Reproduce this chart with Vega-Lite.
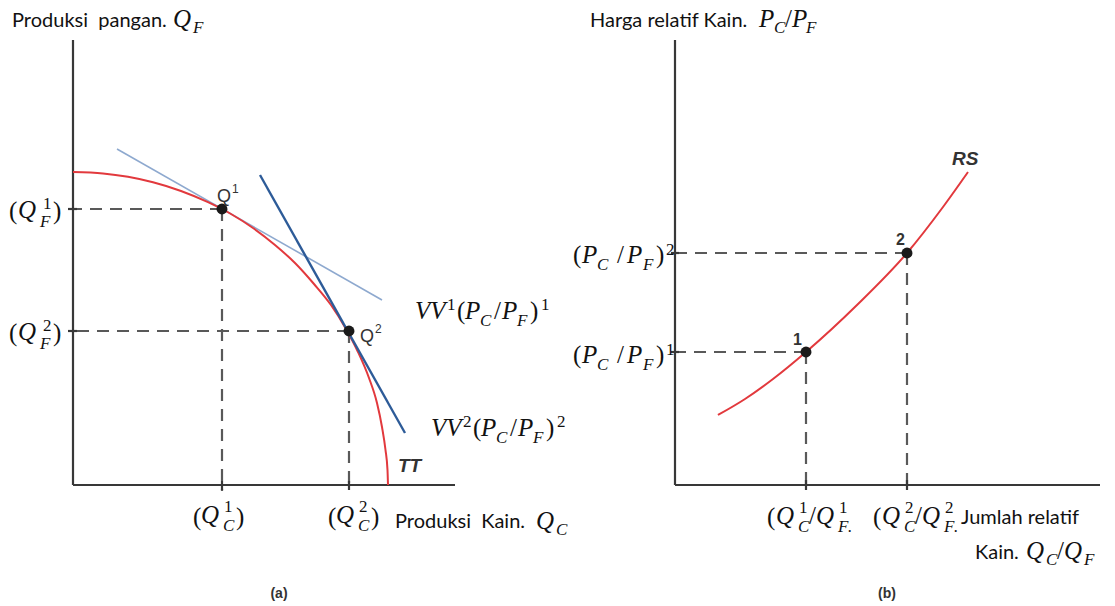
{
  "$schema": "https://vega.github.io/schema/vega-lite/v6.json",
  "background": "white",
  "padding": 0,
  "spacing": 0,
  "bounds": "flush",
  "config": {"view": {"stroke": null}},
  "datasets": {
    "a_solid": [
      {"x": 0, "y": 0, "x2": 0, "y2": 445},
      {"x": 0, "y": 0, "x2": 382, "y2": 0},
      {"x": -5, "y": 276, "x2": 4, "y2": 276},
      {"x": -5, "y": 154, "x2": 4, "y2": 154},
      {"x": 149, "y": -5, "x2": 149, "y2": 4},
      {"x": 276, "y": -5, "x2": 276, "y2": 4}
    ],
    "a_dash": [
      {"x": 149, "y": 276, "x2": 0, "y2": 276},
      {"x": 149, "y": 276, "x2": 149, "y2": -6},
      {"x": 276, "y": 154, "x2": 0, "y2": 154},
      {"x": 276, "y": 154, "x2": 276, "y2": -6}
    ],
    "a_vv1": [{"x": 44, "y": 336, "x2": 309, "y2": 185}],
    "a_vv2": [{"x": 187, "y": 310, "x2": 332, "y2": 52}],
    "a_tt": [
      {"x": 0, "y": 313}, {"x": 30, "y": 311.6}, {"x": 55, "y": 308.2}, {"x": 80, "y": 302.7},
      {"x": 108, "y": 294}, {"x": 135, "y": 282.8}, {"x": 158, "y": 271}, {"x": 180, "y": 257},
      {"x": 202, "y": 240}, {"x": 222, "y": 222}, {"x": 241, "y": 201}, {"x": 258, "y": 180},
      {"x": 273, "y": 156}, {"x": 285, "y": 133}, {"x": 296, "y": 107}, {"x": 304, "y": 82},
      {"x": 309, "y": 58}, {"x": 312.5, "y": 35}, {"x": 314.5, "y": 15}, {"x": 315, "y": 0}
    ],
    "a_pts": [{"x": 149, "y": 276}, {"x": 276, "y": 154}],
    "a_text": [
      {"k": "sans", "t": "Produksi\u00a0\u00a0pangan.", "x": -61, "y": 458},
      {"k": "mi", "t": "Q", "x": 100, "y": 458},
      {"k": "ms", "t": "F", "x": 120, "y": 452},

      {"k": "mr", "t": "(", "x": -64, "y": 266},
      {"k": "mi", "t": "Q", "x": -55, "y": 267},
      {"k": "mrs", "t": "1", "x": -30, "y": 276},
      {"k": "ms", "t": "F", "x": -33, "y": 258},
      {"k": "mr", "t": ")", "x": -20, "y": 266},

      {"k": "mr", "t": "(", "x": -64, "y": 144},
      {"k": "mi", "t": "Q", "x": -55, "y": 145},
      {"k": "mrs", "t": "2", "x": -30, "y": 154},
      {"k": "ms", "t": "F", "x": -33, "y": 136},
      {"k": "mr", "t": ")", "x": -20, "y": 144},

      {"k": "mr", "t": "(", "x": 120, "y": -40},
      {"k": "mi", "t": "Q", "x": 128, "y": -38},
      {"k": "mrs", "t": "1", "x": 151, "y": -27},
      {"k": "ms", "t": "C", "x": 150, "y": -46},
      {"k": "mr", "t": ")", "x": 163, "y": -40},

      {"k": "mr", "t": "(", "x": 255, "y": -40},
      {"k": "mi", "t": "Q", "x": 263, "y": -38},
      {"k": "mrs", "t": "2", "x": 286, "y": -27},
      {"k": "ms", "t": "C", "x": 285, "y": -46},
      {"k": "mr", "t": ")", "x": 298, "y": -40},

      {"k": "sans", "t": "Produksi\u00a0\u00a0Kain.", "x": 322, "y": -43},
      {"k": "mi", "t": "Q", "x": 463, "y": -44},
      {"k": "ms", "t": "C", "x": 483, "y": -50},

      {"k": "mi", "t": "VV", "x": 342, "y": 166},
      {"k": "mrs", "t": "1", "x": 374, "y": 175},
      {"k": "mr", "t": "(", "x": 384, "y": 166},
      {"k": "mi", "t": "P", "x": 392, "y": 166},
      {"k": "ms", "t": "C", "x": 407, "y": 159},
      {"k": "mr", "t": "/", "x": 421, "y": 166},
      {"k": "mi", "t": "P", "x": 429, "y": 166},
      {"k": "ms", "t": "F", "x": 444, "y": 159},
      {"k": "mr", "t": ")", "x": 457, "y": 166},
      {"k": "mrs", "t": "1", "x": 468, "y": 175},

      {"k": "mi", "t": "VV", "x": 358, "y": 49},
      {"k": "mrs", "t": "2", "x": 390, "y": 58},
      {"k": "mr", "t": "(", "x": 400, "y": 49},
      {"k": "mi", "t": "P", "x": 408, "y": 49},
      {"k": "ms", "t": "C", "x": 423, "y": 42},
      {"k": "mr", "t": "/", "x": 437, "y": 49},
      {"k": "mi", "t": "P", "x": 445, "y": 49},
      {"k": "ms", "t": "F", "x": 460, "y": 42},
      {"k": "mr", "t": ")", "x": 473, "y": 49},
      {"k": "mrs", "t": "2", "x": 484, "y": 58},

      {"k": "fig", "t": "Q", "x": 144, "y": 283},
      {"k": "figs", "t": "1", "x": 159, "y": 292},
      {"k": "fig", "t": "Q", "x": 287, "y": 143},
      {"k": "figs", "t": "2", "x": 302, "y": 152},
      {"k": "figi", "t": "TT", "x": 325, "y": 13},
      {"k": "cap", "t": "(a)", "x": 206, "y": -113}
    ],
    "b_solid": [
      {"x": 0, "y": 0, "x2": 0, "y2": 445},
      {"x": 0, "y": 0, "x2": 425, "y2": 0},
      {"x": -4, "y": 232, "x2": 4, "y2": 232},
      {"x": -4, "y": 133, "x2": 4, "y2": 133},
      {"x": 131, "y": -5, "x2": 131, "y2": 5},
      {"x": 232, "y": -5, "x2": 232, "y2": 5}
    ],
    "b_dash": [
      {"x": 232, "y": 232, "x2": 0, "y2": 232},
      {"x": 232, "y": 232, "x2": 232, "y2": 0},
      {"x": 131, "y": 133, "x2": 0, "y2": 133},
      {"x": 131, "y": 133, "x2": 131, "y2": 0}
    ],
    "b_rs": [
      {"x": 43, "y": 70}, {"x": 70, "y": 86}, {"x": 98, "y": 106}, {"x": 131, "y": 133},
      {"x": 182, "y": 180}, {"x": 232, "y": 232}, {"x": 268, "y": 278}, {"x": 293, "y": 313}
    ],
    "b_pts": [{"x": 131, "y": 133}, {"x": 232, "y": 232}],
    "b_text": [
      {"k": "sans", "t": "Harga relatif Kain.", "x": -85, "y": 458},
      {"k": "mi", "t": "P", "x": 84, "y": 458},
      {"k": "ms", "t": "C", "x": 99, "y": 452},
      {"k": "mr", "t": "/", "x": 110, "y": 458},
      {"k": "mi", "t": "P", "x": 117, "y": 458},
      {"k": "ms", "t": "F", "x": 131, "y": 452},

      {"k": "mr", "t": "(", "x": -102, "y": 222},
      {"k": "mi", "t": "P", "x": -93, "y": 222},
      {"k": "ms", "t": "C", "x": -78, "y": 215},
      {"k": "mr", "t": "/", "x": -58, "y": 222},
      {"k": "mi", "t": "P", "x": -48, "y": 222},
      {"k": "ms", "t": "F", "x": -32, "y": 215},
      {"k": "mr", "t": ")", "x": -19, "y": 222},
      {"k": "mrs", "t": "2", "x": -9, "y": 230},

      {"k": "mr", "t": "(", "x": -102, "y": 122},
      {"k": "mi", "t": "P", "x": -93, "y": 122},
      {"k": "ms", "t": "C", "x": -78, "y": 115},
      {"k": "mr", "t": "/", "x": -58, "y": 122},
      {"k": "mi", "t": "P", "x": -48, "y": 122},
      {"k": "ms", "t": "F", "x": -32, "y": 115},
      {"k": "mr", "t": ")", "x": -19, "y": 122},
      {"k": "mrs", "t": "1", "x": -9, "y": 130},

      {"k": "mr", "t": "(", "x": 92, "y": -40},
      {"k": "mi", "t": "Q", "x": 101, "y": -39},
      {"k": "mrs", "t": "1", "x": 124, "y": -28},
      {"k": "ms", "t": "C", "x": 123, "y": -47},
      {"k": "mr", "t": "/", "x": 134, "y": -39},
      {"k": "mi", "t": "Q", "x": 141, "y": -39},
      {"k": "mrs", "t": "1", "x": 164, "y": -28},
      {"k": "ms", "t": "F", "x": 163, "y": -47},
      {"k": "ms", "t": ".", "x": 173, "y": -47},

      {"k": "mr", "t": "(", "x": 198, "y": -40},
      {"k": "mi", "t": "Q", "x": 207, "y": -39},
      {"k": "mrs", "t": "2", "x": 230, "y": -28},
      {"k": "ms", "t": "C", "x": 229, "y": -47},
      {"k": "mr", "t": "/", "x": 240, "y": -39},
      {"k": "mi", "t": "Q", "x": 247, "y": -39},
      {"k": "mrs", "t": "2", "x": 270, "y": -28},
      {"k": "ms", "t": "F", "x": 269, "y": -47},
      {"k": "ms", "t": ".", "x": 279, "y": -47},

      {"k": "sans", "t": "Jumlah relatif", "x": 286, "y": -39},
      {"k": "sans", "t": "Kain.", "x": 300, "y": -74},
      {"k": "mi", "t": "Q", "x": 351, "y": -74},
      {"k": "ms", "t": "C", "x": 371, "y": -80},
      {"k": "mr", "t": "/", "x": 382, "y": -74},
      {"k": "mi", "t": "Q", "x": 389, "y": -74},
      {"k": "ms", "t": "F", "x": 409, "y": -80},

      {"k": "fign", "t": "1", "x": 118, "y": 140},
      {"k": "fign", "t": "2", "x": 221, "y": 240},
      {"k": "figi", "t": "RS", "x": 277, "y": 320},
      {"k": "cap", "t": "(b)", "x": 212, "y": -113}
    ]
  },
  "hconcat": [
    {
      "width": 557,
      "height": 606,
      "encoding": {
        "x": {"field": "x", "type": "quantitative", "scale": {"domain": [-73, 484], "nice": false, "zero": false}, "axis": null},
        "y": {"field": "y", "type": "quantitative", "scale": {"domain": [-121, 485], "nice": false, "zero": false}, "axis": null}
      },
      "layer": [
        {"data": {"name": "a_dash"}, "mark": {"type": "rule", "color": "#595959", "strokeWidth": 2.2, "strokeDash": [12, 8]}, "encoding": {"x2": {"field": "x2"}, "y2": {"field": "y2"}}},
        {"data": {"name": "a_solid"}, "mark": {"type": "rule", "color": "#383838", "strokeWidth": 2.2}, "encoding": {"x2": {"field": "x2"}, "y2": {"field": "y2"}}},
        {"data": {"name": "a_vv1"}, "mark": {"type": "rule", "color": "#8ea9cf", "strokeWidth": 1.6}, "encoding": {"x2": {"field": "x2"}, "y2": {"field": "y2"}}},
        {"data": {"name": "a_tt"}, "mark": {"type": "line", "color": "#e2393d", "strokeWidth": 2, "interpolate": "monotone"}, "encoding": {}},
        {"data": {"name": "a_vv2"}, "mark": {"type": "rule", "color": "#2d5b98", "strokeWidth": 2.4}, "encoding": {"x2": {"field": "x2"}, "y2": {"field": "y2"}}},
        {"data": {"name": "a_pts"}, "mark": {"type": "point", "filled": true, "color": "#1a1a1a", "opacity": 1, "size": 120}, "encoding": {}},
        {"data": {"name": "a_text"}, "transform": [{"filter": "datum.k === 'sans'"}], "mark": {"type": "text", "font": "Lato", "fontSize": 20, "align": "left", "baseline": "alphabetic", "color": "#111"}, "encoding": {"text": {"field": "t"}}},
        {"data": {"name": "a_text"}, "transform": [{"filter": "datum.k === 'mi'"}], "mark": {"type": "text", "font": "Liberation Serif", "fontStyle": "italic", "fontSize": 25, "align": "left", "baseline": "alphabetic", "color": "#111"}, "encoding": {"text": {"field": "t"}}},
        {"data": {"name": "a_text"}, "transform": [{"filter": "datum.k === 'mr'"}], "mark": {"type": "text", "font": "Liberation Serif", "fontSize": 25, "align": "left", "baseline": "alphabetic", "color": "#111"}, "encoding": {"text": {"field": "t"}}},
        {"data": {"name": "a_text"}, "transform": [{"filter": "datum.k === 'ms'"}], "mark": {"type": "text", "font": "Liberation Serif", "fontStyle": "italic", "fontSize": 17, "align": "left", "baseline": "alphabetic", "color": "#111"}, "encoding": {"text": {"field": "t"}}},
        {"data": {"name": "a_text"}, "transform": [{"filter": "datum.k === 'mrs'"}], "mark": {"type": "text", "font": "Liberation Serif", "fontSize": 17, "align": "left", "baseline": "alphabetic", "color": "#111"}, "encoding": {"text": {"field": "t"}}},
        {"data": {"name": "a_text"}, "transform": [{"filter": "datum.k === 'fig'"}], "mark": {"type": "text", "font": "Liberation Sans", "fontSize": 18, "align": "left", "baseline": "alphabetic", "color": "#333"}, "encoding": {"text": {"field": "t"}}},
        {"data": {"name": "a_text"}, "transform": [{"filter": "datum.k === 'figs'"}], "mark": {"type": "text", "font": "Liberation Sans", "fontSize": 12, "align": "left", "baseline": "alphabetic", "color": "#333"}, "encoding": {"text": {"field": "t"}}},
        {"data": {"name": "a_text"}, "transform": [{"filter": "datum.k === 'figi'"}], "mark": {"type": "text", "font": "Liberation Sans", "fontStyle": "italic", "fontWeight": "bold", "fontSize": 19, "align": "left", "baseline": "alphabetic", "color": "#333"}, "encoding": {"text": {"field": "t"}}},
        {"data": {"name": "a_text"}, "transform": [{"filter": "datum.k === 'cap'"}], "mark": {"type": "text", "font": "Liberation Sans", "fontWeight": "bold", "fontSize": 14, "align": "center", "baseline": "alphabetic", "color": "#333"}, "encoding": {"text": {"field": "t"}}}
      ]
    },
    {
      "width": 558,
      "height": 606,
      "encoding": {
        "x": {"field": "x", "type": "quantitative", "scale": {"domain": [-118, 440], "nice": false, "zero": false}, "axis": null},
        "y": {"field": "y", "type": "quantitative", "scale": {"domain": [-121, 485], "nice": false, "zero": false}, "axis": null}
      },
      "layer": [
        {"data": {"name": "b_dash"}, "mark": {"type": "rule", "color": "#595959", "strokeWidth": 2.2, "strokeDash": [12, 8]}, "encoding": {"x2": {"field": "x2"}, "y2": {"field": "y2"}}},
        {"data": {"name": "b_solid"}, "mark": {"type": "rule", "color": "#383838", "strokeWidth": 2.2}, "encoding": {"x2": {"field": "x2"}, "y2": {"field": "y2"}}},
        {"data": {"name": "b_rs"}, "mark": {"type": "line", "color": "#e2393d", "strokeWidth": 2, "interpolate": "monotone"}, "encoding": {}},
        {"data": {"name": "b_pts"}, "mark": {"type": "point", "filled": true, "color": "#1a1a1a", "opacity": 1, "size": 120}, "encoding": {}},
        {"data": {"name": "b_text"}, "transform": [{"filter": "datum.k === 'sans'"}], "mark": {"type": "text", "font": "Lato", "fontSize": 20, "align": "left", "baseline": "alphabetic", "color": "#111"}, "encoding": {"text": {"field": "t"}}},
        {"data": {"name": "b_text"}, "transform": [{"filter": "datum.k === 'mi'"}], "mark": {"type": "text", "font": "Liberation Serif", "fontStyle": "italic", "fontSize": 25, "align": "left", "baseline": "alphabetic", "color": "#111"}, "encoding": {"text": {"field": "t"}}},
        {"data": {"name": "b_text"}, "transform": [{"filter": "datum.k === 'mr'"}], "mark": {"type": "text", "font": "Liberation Serif", "fontSize": 25, "align": "left", "baseline": "alphabetic", "color": "#111"}, "encoding": {"text": {"field": "t"}}},
        {"data": {"name": "b_text"}, "transform": [{"filter": "datum.k === 'ms'"}], "mark": {"type": "text", "font": "Liberation Serif", "fontStyle": "italic", "fontSize": 17, "align": "left", "baseline": "alphabetic", "color": "#111"}, "encoding": {"text": {"field": "t"}}},
        {"data": {"name": "b_text"}, "transform": [{"filter": "datum.k === 'mrs'"}], "mark": {"type": "text", "font": "Liberation Serif", "fontSize": 17, "align": "left", "baseline": "alphabetic", "color": "#111"}, "encoding": {"text": {"field": "t"}}},
        {"data": {"name": "b_text"}, "transform": [{"filter": "datum.k === 'fign'"}], "mark": {"type": "text", "font": "Liberation Sans", "fontWeight": "bold", "fontSize": 16, "align": "left", "baseline": "alphabetic", "color": "#333"}, "encoding": {"text": {"field": "t"}}},
        {"data": {"name": "b_text"}, "transform": [{"filter": "datum.k === 'figi'"}], "mark": {"type": "text", "font": "Liberation Sans", "fontStyle": "italic", "fontWeight": "bold", "fontSize": 19, "align": "left", "baseline": "alphabetic", "color": "#333"}, "encoding": {"text": {"field": "t"}}},
        {"data": {"name": "b_text"}, "transform": [{"filter": "datum.k === 'cap'"}], "mark": {"type": "text", "font": "Liberation Sans", "fontWeight": "bold", "fontSize": 14, "align": "center", "baseline": "alphabetic", "color": "#333"}, "encoding": {"text": {"field": "t"}}}
      ]
    }
  ]
}
